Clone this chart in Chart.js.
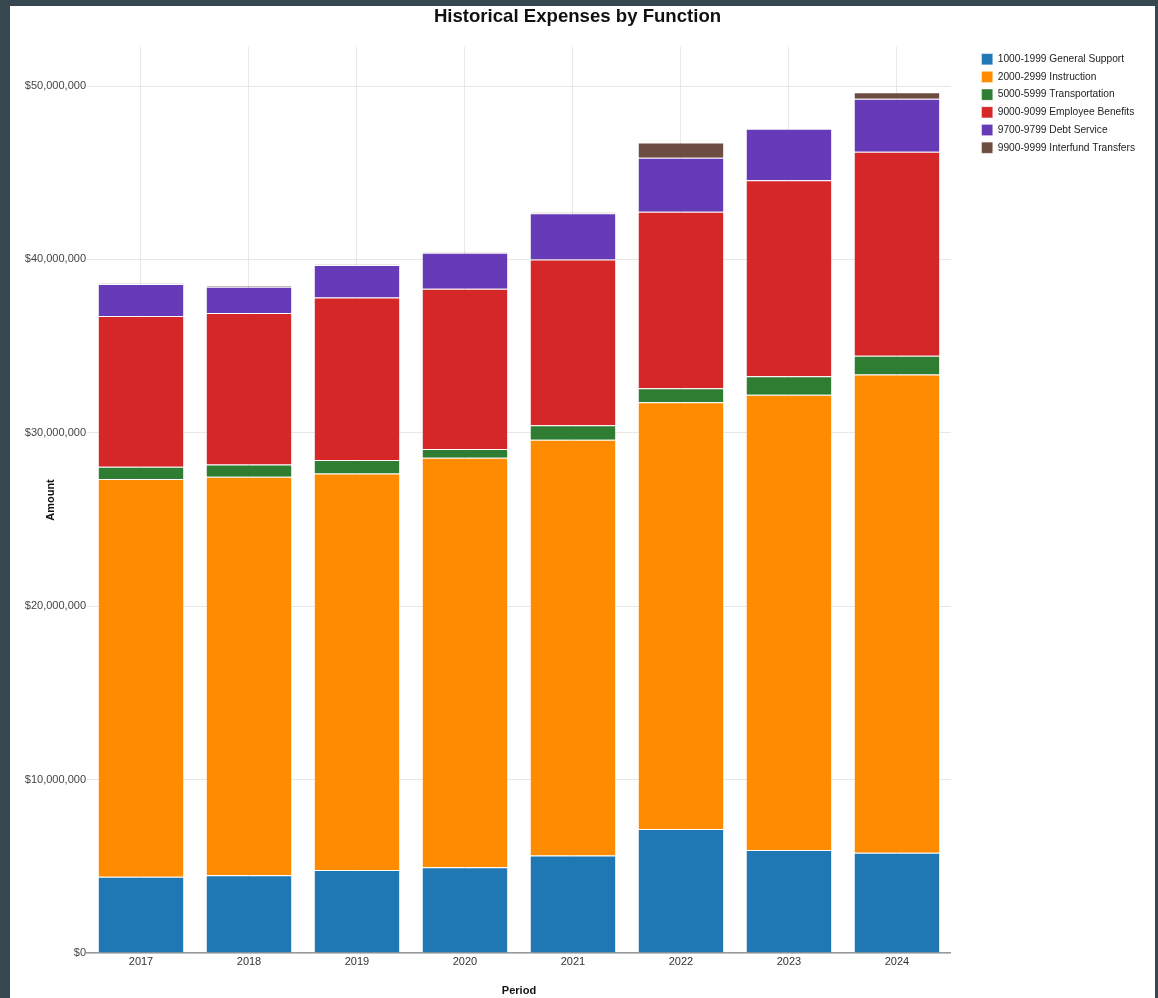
<!DOCTYPE html>
<html>
<head>
<meta charset="utf-8">
<title>Historical Expenses by Function</title>
<script src="https://cdn.jsdelivr.net/npm/chart.js@4.4.1/dist/chart.umd.min.js"></script>
<style>
  html, body { margin: 0; padding: 0; }
  body { background: #37474f; width: 1158px; height: 998px; overflow: hidden; position: relative; }
  .chart-wrapper { position: absolute; left: 10px; top: 6px; width: 1145px; height: 992px; background: #fff; }
</style>
</head>
<body>
<div class="chart-wrapper">
  <canvas id="expenseChart"></canvas>
</div>
<script>
// 数据
const periods = ['2017', '2018', '2019', '2020', '2021', '2022', '2023', '2024'];

const generalSupport     = [4400000, 4480000, 4790000, 4940000, 5630000, 7150000, 5940000, 5780000];
const instruction        = [22940000, 22990000, 22870000, 23620000, 23970000, 24610000, 26260000, 27590000];
const transportation     = [700000, 710000, 770000, 510000, 830000, 810000, 1060000, 1080000];
const employeeBenefits   = [8700000, 8730000, 9380000, 9240000, 9570000, 10180000, 11300000, 11760000];
const debtService        = [1840000, 1520000, 1870000, 2080000, 2660000, 3120000, 2980000, 3060000];
const interfundTransfers = [30000, 40000, 30000, 30000, 50000, 880000, 0, 370000];

const seriesNames = [
  '1000-1999 General Support',
  '2000-2999 Instruction',
  '5000-5999 Transportation',
  '9000-9099 Employee Benefits',
  '9700-9799 Debt Service',
  '9900-9999 Interfund Transfers'
];
const seriesValues = [generalSupport, instruction, transportation, employeeBenefits, debtService, interfundTransfers];
const seriesColors = ['#1f77b4', '#ff8c00', '#2e7d32', '#d62728', '#673ab7', '#6d4c41'];

// y 轴刻度
const yTickValues = [0, 10000000, 20000000, 30000000, 40000000, 50000000];
const yMax = 52250000;

Chart.defaults.font.family = '"Liberation Sans", Arial, sans-serif';
Chart.defaults.color = '#444';

// 图例与绘图区之间留出间隙
const legendGap = {
  id: 'legendGap',
  afterInit(chart) {
    const legend = chart.legend;
    const fit = legend.fit;
    legend.fit = function () { fit.call(this); this.width += 24; };
    const draw = legend.draw;
    legend.draw = function () { this.left += 24; draw.call(this); this.left -= 24; };
  }
};

function renderExpenseChart() {
  const ctx = document.getElementById('expenseChart');
  if (!ctx) return;

  new Chart(ctx, {
    type: 'bar',
    data: {
      labels: periods,
      datasets: seriesNames.map((name, i) => ({
        label: name,
        data: seriesValues[i],
        backgroundColor: seriesColors[i],
        borderColor: 'rgba(255,255,255,0.2)',
        borderWidth: 1,
        categoryPercentage: 0.8,
        barPercentage: 1
      }))
    },
    options: {
      responsive: true,
      maintainAspectRatio: false,
      animation: false,
      layout: { padding: { top: 0, right: 10, bottom: 0, left: 0 } },
      plugins: {
        title: {
          display: true,
          text: 'Historical Expenses by Function',
          color: '#111',
          font: { size: 18.6, weight: 'bold' },
          padding: { top: 0, bottom: 18.7 }
        },
        legend: {
          position: 'right',
          align: 'start',
          fullSize: false,
          labels: {
            boxWidth: 11,
            boxHeight: 11,
            padding: 6.7,
            color: '#222',
            font: { size: 10.2 }
          }
        },
        tooltip: {
          callbacks: {
            label: c => c.dataset.label + ': $' + c.raw.toLocaleString('en-US')
          }
        }
      },
      scales: {
        x: {
          stacked: true,
          afterFit: scale => { scale.height = 45; },
          grid: { offset: false, color: '#e8e8e8', drawTicks: false },
          border: { color: '#999', width: 1.5 },
          ticks: { padding: 2, color: '#333', font: { size: 11 } },
          title: {
            display: true,
            text: 'Period',
            color: '#111',
            font: { size: 11, weight: 'bold' },
            padding: { top: 16, bottom: 0 }
          }
        },
        y: {
          stacked: true,
          min: 0,
          max: yMax,
          afterFit: scale => { scale.width = 77; },
          afterBuildTicks: scale => { scale.ticks = yTickValues.map(v => ({ value: v })); },
          grid: { color: '#e8e8e8', drawTicks: false },
          border: { display: false },
          ticks: {
            padding: 1,
            color: '#444',
            font: { size: 11 },
            callback: value => '$' + value.toLocaleString('en-US')
          },
          title: {
            display: true,
            text: 'Amount',
            color: '#111',
            font: { size: 11, weight: 'bold' },
            padding: { top: 34, bottom: 0 }
          }
        }
      }
    },
    plugins: [legendGap]
  });
}

document.addEventListener('DOMContentLoaded', renderExpenseChart);
</script>
</body>
</html>
